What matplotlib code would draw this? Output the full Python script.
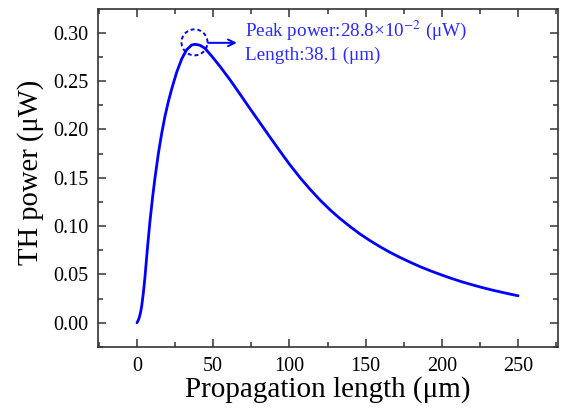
import matplotlib
matplotlib.use("Agg")
import matplotlib.pyplot as plt
from matplotlib.patches import Ellipse
from matplotlib.ticker import MultipleLocator

length_um = [0, 0.8, 1.5, 2.3, 3.1, 4.2, 5.2, 6.8, 8.5, 10.3, 11.8, 14.0, 16.2,
             18.4, 20.6, 22.7, 26.0, 29.3, 32.6, 35.9, 38.1, 41.3, 44.6, 49.0,
             54.5, 61.0, 67.6, 74.1, 80, 87, 94, 100, 107, 113, 120, 127, 133,
             140, 146, 153, 160, 166, 173, 180, 186, 193, 200, 206, 213, 220,
             226, 233, 240, 246, 250]
th_power = [0.000, 0.0025, 0.0055, 0.0105, 0.0175, 0.0315, 0.047, 0.0765, 0.105,
            0.131, 0.150, 0.175, 0.196, 0.214, 0.229, 0.2415, 0.259, 0.2728,
            0.2825, 0.2873, 0.288, 0.2870, 0.2838, 0.2758, 0.2650, 0.2513,
            0.2364, 0.2215, 0.2083, 0.1925, 0.1770, 0.1640, 0.1500, 0.1390,
            0.1270, 0.1163, 0.1080, 0.0992, 0.0921, 0.0848, 0.0781, 0.0728,
            0.0672, 0.0620, 0.0578, 0.0534, 0.0493, 0.0460, 0.0424, 0.0392,
            0.0366, 0.0338, 0.0313, 0.0292, 0.0279]
peak_x = 38.1
peak_y = 0.288
xticks = [0, 50, 100, 150, 200, 250]
yticks = [0.00, 0.05, 0.10, 0.15, 0.20, 0.25, 0.30]

plt.rcParams['font.family'] = ['Liberation Serif', 'DejaVu Serif']
plt.rcParams['mathtext.fontset'] = 'stix'

fig = plt.figure(figsize=(5.62, 4.17), dpi=100)
ax = fig.add_axes([98/562, 1 - 347/417, (558-98)/562, (347-9)/417])

ax.plot(length_um, th_power, color='#0000ff', lw=2.0,
        solid_capstyle='round', solid_joinstyle='round')

ax.set_xlim(-25.6, 276.2)
ax.set_ylim(-0.0251, 0.3245)
ax.set_xticks(xticks)
ax.set_xticklabels([str(v) for v in xticks])
ax.set_yticks(yticks)
ax.set_yticklabels([f"{v:.2f}" for v in yticks])
ax.xaxis.set_minor_locator(MultipleLocator(25))
ax.yaxis.set_minor_locator(MultipleLocator(0.025))
ax.tick_params(which='both', direction='in', top=True, right=True,
               labelsize=14.5, color='#333333', width=1.1)
ax.tick_params(which='major', length=6, pad=7)
ax.tick_params(which='minor', length=3.5)
for s in ax.spines.values():
    s.set_linewidth(1.2)
    s.set_color('#333333')

ax.set_xlabel('Propagation length (μm)', fontsize=21, labelpad=0)
ax.set_ylabel('TH power (μW)', fontsize=20.6, labelpad=6)
ax.yaxis.set_label_coords(-0.118, 0.516)

# dashed circle around peak (drawn in display-size units)
circ = Ellipse((peak_x - 0.4, peak_y + 0.002), width=26/1.524, height=26/966.7,
               fill=False, ls=(0, (2, 1.5)), lw=1.4, ec='#0000ff')
ax.add_patch(circ)
ax.annotate('', xy=(65.5, 0.2895), xytext=(46.6, 0.2895),
            arrowprops=dict(arrowstyle='->', color='#0000ff', lw=1.4,
                            mutation_scale=12, shrinkA=0, shrinkB=0))
ax.text(70.6, 0.3028, 'Peak power:28.8×10$^{-2}$ (μW)', color='#2a2aff',
        fontsize=13.75, va='center', ha='left')
ax.text(70.6, 0.2765, 'Length:38.1 (μm)', color='#2a2aff',
        fontsize=13.75, va='center', ha='left')

fig.savefig('out.png', dpi=100)
